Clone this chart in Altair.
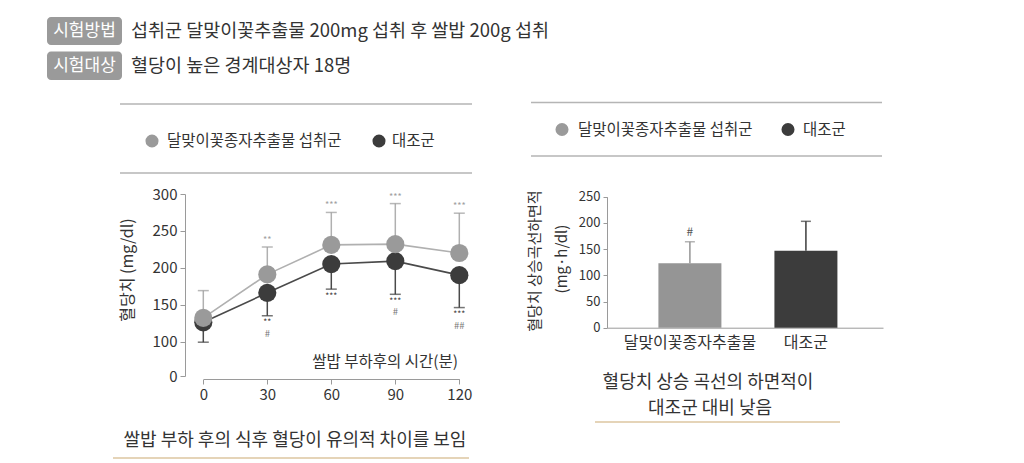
import altair as alt
import pandas as pd

FONT = "Noto Sans CJK KR"

# ---------------- data ----------------
times = [0, 30, 60, 90, 120]
groups = ["달맞이꽃종자추출물 섭취군", "대조군"]
extract_mean = [132, 191, 231, 232, 220]
extract_upper = [169, 228, 275, 287, 274]
extract_stars = ["", "**", "***", "***", "***"]
control_mean = [126, 166, 205, 209, 190]
control_lower = [98, 135, 171, 164, 146]
control_stars = ["", "**", "***", "***", "***"]
control_hash = ["", "#", "", "#", "##"]

bar_labels = ["달맞이꽃종자추출물", "대조군"]
auc_mean = [123, 147]
auc_upper = [164, 203]
auc_mark = ["#", ""]

y_ticks_left = [0, 100, 150, 200, 250, 300]
x_ticks_left = [0, 30, 60, 90, 120]
y_ticks_right = [0, 50, 100, 150, 200, 250]

header_tags = ["시험방법", "시험대상"]
header_texts = ["섭취군 달맞이꽃추출물 200mg 섭취 후 쌀밥 200g 섭취", "혈당이 높은 경계대상자 18명"]
left_ytitle = "혈당치 (mg/dl)"
left_xtitle = "쌀밥 부하후의 시간(분)"
left_caption = "쌀밥 부하 후의 식후 혈당이 유의적 차이를 보임"
right_ytitle = ["혈당치 상승곡선하면적", "(mg·h/dl)"]
right_caption = ["혈당치 상승 곡선의 하면적이", "대조군 대비 낮음"]

# ---------------- style ----------------
W, H = 1008, 452
LIGHT = "#9a9a9a"
DARK = "#3c3c3c"
LIGHT_LINE = "#b0b0b0"
DARK_LINE = "#4a4a4a"
AX = "#9a9a9a"
TXT = "#333333"
TAN = "#dcc6a0"


def c(v):
    return v - 8


# ---------------- tables ----------------
ctl_df = pd.DataFrame({"group": groups[1], "time": times, "mean": control_mean,
                       "err": control_lower, "stars": control_stars, "hash": control_hash})
ext_df = pd.DataFrame({"group": groups[0], "time": times, "mean": extract_mean,
                       "err": extract_upper, "stars": extract_stars, "hash": ""})
left_df = pd.concat([ctl_df, ext_df], ignore_index=True)
right_df = pd.DataFrame({"label": bar_labels, "mean": auc_mean, "upper": auc_upper, "mark": auc_mark})

# ---------------- left chart ----------------
lx_scale = alt.Scale(domain=[0, 120], range=[c(203.3), c(459.3)], nice=False, zero=False)
ly_scale = alt.Scale(domain=[0, 100, 300], range=[c(376), c(341.5), c(194)], nice=False, zero=False)
lx_axis = alt.Axis(values=x_ticks_left, orient="bottom", offset=c(379) - H, title=None, grid=False,
                   tickSize=5, labelFontSize=15, labelPadding=3, domainColor=AX, tickColor=AX,
                   labelColor=TXT, labelFlush=False, labelOverlap=False)
ly_axis = alt.Axis(values=y_ticks_left, orient="left", offset=-c(185), title=None, grid=False,
                   tickSize=5, labelFontSize=15, labelPadding=3, domainColor=AX, tickColor=AX,
                   labelColor=TXT, labelFlush=False, labelOverlap=False)
color_l = alt.Color("group:N", scale=alt.Scale(domain=groups, range=[LIGHT, DARK]), legend=None)
stroke_l = alt.Stroke("group:N", scale=alt.Scale(domain=groups, range=[LIGHT_LINE, DARK_LINE]), legend=None)

LX = alt.X("time:Q", scale=lx_scale, axis=lx_axis)
base_l = alt.Chart(left_df)

lines = base_l.mark_line(strokeWidth=1.6).encode(
    x=LX, y=alt.Y("mean:Q", scale=ly_scale, axis=ly_axis), stroke=stroke_l, detail="group:N")
err_rules = base_l.mark_rule(strokeWidth=1.5).encode(
    x=LX, y=alt.Y("mean:Q", scale=ly_scale, axis=ly_axis), y2="err:Q", stroke=stroke_l)
err_caps = base_l.mark_tick(orient="horizontal", size=11, thickness=1.5).encode(
    x=LX, y=alt.Y("err:Q", scale=ly_scale, axis=ly_axis), color=color_l)
points = base_l.mark_circle(size=330, opacity=1).encode(
    x=LX, y=alt.Y("mean:Q", scale=ly_scale, axis=ly_axis), color=color_l)
ext_stars = alt.Chart(ext_df).mark_text(dy=-7, fontSize=9, color="#a0a0a0").encode(
    x=LX, y=alt.Y("err:Q", scale=ly_scale, axis=ly_axis), text="stars:N")
ctl_stars = alt.Chart(ctl_df).mark_text(dy=6.5, fontSize=8.5, color="#444444").encode(
    x=LX, y=alt.Y("err:Q", scale=ly_scale, axis=ly_axis), text="stars:N")
ctl_hash = alt.Chart(ctl_df).mark_text(dy=18, fontSize=9.5, color="#777777").encode(
    x=LX, y=alt.Y("err:Q", scale=ly_scale, axis=ly_axis), text="hash:N")

left = alt.layer(lines, err_rules, err_caps, points, ext_stars, ctl_stars, ctl_hash)

# ---------------- right chart ----------------
rx_scale = alt.Scale(domain=bar_labels, range=[c(607), c(883)], paddingInner=0.457,
                     paddingOuter=0.418, align=0.53)
ry_scale = alt.Scale(domain=[0, 250], range=[c(327.7), c(196.7)], nice=False, zero=False)
rx_axis = alt.Axis(orient="bottom", offset=c(327.7) - H, title=None, ticks=False, labelFontSize=16,
                   labelPadding=7, labelAngle=0, domainColor=AX, labelColor=TXT)
ry_axis = alt.Axis(values=y_ticks_right, orient="left", offset=-c(607), title=None, grid=False,
                   tickSize=4, labelFontSize=13, labelPadding=3, domainColor=AX, tickColor=AX,
                   labelColor=TXT, labelFlush=False, labelOverlap=False)
color_r = alt.Color("label:N", scale=alt.Scale(domain=bar_labels, range=["#959595", "#3c3c3c"]), legend=None)
RX = alt.X("label:N", scale=rx_scale, axis=rx_axis, sort=bar_labels)
base_r = alt.Chart(right_df)

bars = base_r.mark_bar().encode(x=RX, y=alt.Y("mean:Q", scale=ry_scale, axis=ry_axis), color=color_r)
r_rules = base_r.mark_rule(strokeWidth=1.5).encode(
    x=RX, y=alt.Y("mean:Q", scale=ry_scale, axis=ry_axis), y2="upper:Q", color=color_r)
r_caps = base_r.mark_tick(orient="horizontal", size=10, thickness=1.5).encode(
    x=RX, y=alt.Y("upper:Q", scale=ry_scale, axis=ry_axis), color=color_r)
r_text = base_r.mark_text(dy=-10, fontSize=12, color="#555555").encode(
    x=RX, y=alt.Y("upper:Q", scale=ry_scale, axis=ry_axis), text="mark:N")

right = alt.layer(bars, r_rules, r_caps, r_text)

# ---------------- decorations ----------------
one = pd.DataFrame({"k": [0]})


def text(s, x, y, size, color=TXT, align="left", angle=0):
    return alt.Chart(one).mark_text(text=s, align=align, baseline="middle", fontSize=size,
                                    color=color, angle=angle).encode(x=alt.value(x), y=alt.value(y))


def hrule(x1, x2, y, color="#b5b5b5", w=1.5):
    return alt.Chart(one).mark_rule(color=color, strokeWidth=w).encode(
        x=alt.value(x1), x2=alt.value(x2), y=alt.value(y))


def box(x1, x2, y1, y2, color="#9a9a9a"):
    return alt.Chart(one).mark_rect(color=color, cornerRadius=4).encode(
        x=alt.value(x1), x2=alt.value(x2), y=alt.value(y1), y2=alt.value(y2))


def dot(x, y, color, size=170):
    return alt.Chart(one).mark_circle(color=color, size=size, opacity=1).encode(
        x=alt.value(x), y=alt.value(y))


decor = [
    box(c(47), c(122), c(17), c(45)),
    box(c(47), c(122), c(51.5), c(80)),
    text(header_tags[0], c(84.5), c(31), 17, color="white", align="center"),
    text(header_tags[1], c(84.5), c(66), 17, color="white", align="center"),
    text(header_texts[0], c(131), c(31), 18.5),
    text(header_texts[1], c(131), c(66), 18.5),
    # left legend
    hrule(c(120), c(472), c(104)),
    hrule(c(120), c(472), c(173)),
    dot(c(152), c(141), LIGHT),
    text(groups[0], c(167), c(141), 15.5),
    dot(c(379), c(141), DARK),
    text(groups[1], c(392), c(141), 15.5),
    # left titles
    text(left_ytitle, c(128), c(270), 16, angle=270, align="center"),
    text(left_xtitle, c(458), c(362), 15.5, align="right"),
    text(left_caption, c(295), c(441), 18, align="center"),
    hrule(c(113), c(469), c(458), color=TAN, w=1.5),
    # right legend
    hrule(c(531), c(882), c(102.5)),
    hrule(c(531), c(882), c(156)),
    dot(c(562), c(129.5), LIGHT),
    text(groups[0], c(578), c(129.5), 15.5),
    dot(c(788), c(129.5), DARK),
    text(groups[1], c(803), c(129.5), 15.5),
    # right titles
    text(right_ytitle[0], c(535), c(261), 15, angle=270, align="center"),
    text(right_ytitle[1], c(562), c(259), 15, angle=270, align="center"),
    text(right_caption[0], c(708), c(383), 18, align="center"),
    text(right_caption[1], c(710), c(409), 18, align="center"),
    hrule(c(595), c(840), c(422), color=TAN, w=1.5),
]

chart = alt.layer(left, right, *decor).resolve_scale(
    x="independent", y="independent", color="independent", stroke="independent"
).resolve_axis(x="independent", y="independent").properties(
    width=W, height=H, autosize=alt.AutoSizeParams(type="none"), padding=0
).configure(font=FONT).configure_view(stroke=None)

chart.save("out.html", embed_options={"renderer": "svg", "actions": False})
